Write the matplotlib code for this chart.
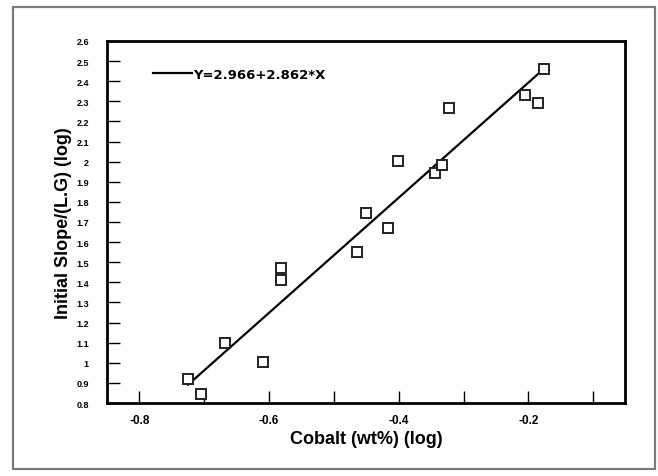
import numpy as np
import matplotlib.pyplot as plt
from matplotlib.patches import Rectangle

plt.rcParams['font.family'] = ['Liberation Sans', 'DejaVu Sans']

# log cobalt content vs log initial slope
cobalt_log = [-0.725, -0.705, -0.668, -0.610, -0.581, -0.581, -0.464, -0.450,
              -0.416, -0.401, -0.344, -0.333, -0.322, -0.205, -0.185, -0.176]
slope_log = [0.92, 0.845, 1.10, 1.005, 1.47, 1.41, 1.55, 1.745,
             1.67, 2.005, 1.945, 1.985, 2.265, 2.33, 2.29, 2.46]

# fitted line Y = a + b*X
fit_a = 2.966
fit_b = 2.862
fit_label = "Y=2.966+2.862*X"

x_ticks = [-0.8, -0.7, -0.6, -0.5, -0.4, -0.3, -0.2, -0.1]
x_ticklabels = ["-0.8", "", "-0.6", "", "-0.4", "", "-0.2", ""]
y_ticks = [0.8, 0.9, 1.0, 1.1, 1.2, 1.3, 1.4, 1.5, 1.6, 1.7, 1.8, 1.9,
           2.0, 2.1, 2.2, 2.3, 2.4, 2.5, 2.6]
y_ticklabels = ["0.8", "0.9", "1", "1.1", "1.2", "1.3", "1.4", "1.5", "1.6",
                "1.7", "1.8", "1.9", "2", "2.1", "2.2", "2.3", "2.4", "2.5", "2.6"]

fig = plt.figure(figsize=(6.58, 4.77), dpi=100)
fig.patch.set_facecolor("white")

# grey frame around the whole figure
fig.patches.append(Rectangle((0.020, 0.015), 0.976, 0.969, transform=fig.transFigure,
                             fill=False, edgecolor="#7a7a7a", linewidth=1.6))

ax = fig.add_axes([0.1626, 0.153, 0.7874, 0.759])

xs = np.array([min(cobalt_log), max(cobalt_log)])
ax.plot(xs, fit_a + fit_b * xs, color="black", linewidth=1.6, label=fit_label)
ax.plot(cobalt_log, slope_log, linestyle="none", marker="s", markersize=7,
        markerfacecolor="white", markeredgecolor="#222222", markeredgewidth=1.4)

ax.set_xlim(-0.85, -0.051)
ax.set_ylim(0.8, 2.6)
ax.set_xticks(x_ticks)
ax.set_xticklabels(x_ticklabels)
ax.set_yticks(y_ticks)
ax.set_yticklabels(y_ticklabels)
ax.tick_params(direction="in", length=9, width=1.0, top=False, right=False)
ax.tick_params(axis="x", pad=8, labelsize=8.5)
ax.tick_params(axis="y", pad=13, labelsize=6.5)
for lbl in ax.get_xticklabels() + ax.get_yticklabels():
    lbl.set_fontweight("bold")

for side in ax.spines.values():
    side.set_linewidth(2.0)

ax.set_xlabel("Cobalt (wt%) (log)", fontsize=13, fontweight="bold", labelpad=3)
ax.set_ylabel("Initial Slope/(L.G) (log)", fontsize=13, fontweight="bold", labelpad=3)

leg = ax.legend(loc="upper left", bbox_to_anchor=(0.078, 0.94), frameon=False,
                handlelength=3.0, handletextpad=0.1, borderaxespad=0.0,
                prop={"family": "DejaVu Sans", "weight": "bold", "size": 9.5})

fig.savefig("out.png", dpi=100)
